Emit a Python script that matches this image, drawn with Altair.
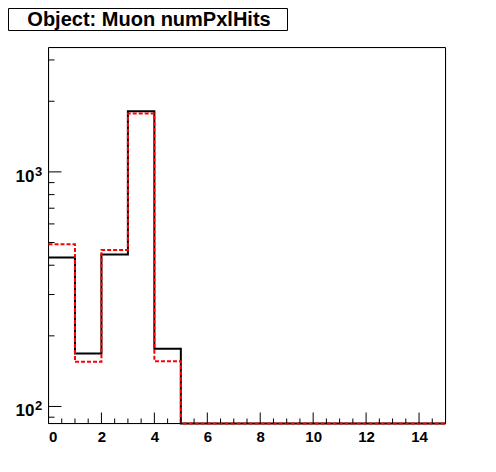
import altair as alt
import pandas as pd

# ---- data ----
bin_lows = list(range(15))                      # bins 0..14, width 1
black_counts = [432, 168, 444, 1814, 176, 0, 0, 0, 0, 0, 0, 0, 0, 0, 0]
red_counts = [491, 155, 465, 1774, 156, 0, 0, 0, 0, 0, 0, 0, 0, 0, 0]
x_labels = [0, 2, 4, 6, 8, 10, 12, 14]
x_minor = [0.5, 1, 1.5, 2.5, 3, 3.5, 4.5, 5, 5.5, 6.5, 7, 7.5, 8.5, 9, 9.5,
           10.5, 11, 11.5, 12.5, 13, 13.5, 14.5]
y_major = [100, 1000]
y_exponents = ["2", "3"]
y_minor = [90, 200, 300, 400, 500, 600, 700, 800, 900, 2000, 3000]
title_text = "Object: Muon numPxlHits"

X_MIN, X_MAX = 0, 15
Y_MIN, Y_MAX = 84.6, 3390

W, H = 397, 376
FONT = "Liberation Sans"


def step_frame(counts, name):
    edges = bin_lows + [bin_lows[-1] + 1]
    vals = counts + [counts[-1]]
    return pd.DataFrame({"edge": edges, "value": vals, "series": name})


df = pd.concat([step_frame(black_counts, "black"), step_frame(red_counts, "red")])

xs = alt.Scale(domain=[X_MIN, X_MAX], nice=False, zero=False)
ys = alt.Scale(type="log", domain=[Y_MIN, Y_MAX], nice=False, clamp=True)

base = alt.Chart(df).transform_calculate(yc=f"max(datum.value, {Y_MIN})")

black_line = base.transform_filter(alt.datum.series == "black").mark_line(
    interpolate="step-after", color="black", strokeWidth=2
).encode(
    x=alt.X("edge:Q", scale=xs,
            axis=alt.Axis(values=x_labels, title=None, tickSize=0, domain=False, grid=False,
                          labelFont=FONT, labelFontWeight="bold",
                          labelFontSize=15, labelColor="black", labelPadding=6)),
    y=alt.Y("yc:Q", scale=ys, axis=None),
)

red_line = base.transform_filter(alt.datum.series == "red").mark_line(
    interpolate="step-after", color="red", strokeWidth=2, strokeDash=[4, 2]
).encode(
    x=alt.X("edge:Q", scale=xs),
    y=alt.Y("yc:Q", scale=ys),
)

frame = alt.Chart(pd.DataFrame({"t": [0]})).mark_rect(
    fill=None, stroke="black", strokeWidth=1).encode(
    x=alt.value(0), x2=alt.value(W), y=alt.value(0), y2=alt.value(H))

xmaj = alt.Chart(pd.DataFrame({"v": x_labels})).mark_rule(color="black", strokeWidth=1).encode(
    x=alt.X("v:Q", scale=xs), y=alt.value(H), y2=alt.value(H - 11))
xmin = alt.Chart(pd.DataFrame({"v": x_minor})).mark_rule(color="black", strokeWidth=1).encode(
    x=alt.X("v:Q", scale=xs), y=alt.value(H), y2=alt.value(H - 5))
ymaj = alt.Chart(pd.DataFrame({"v": y_major})).mark_rule(color="black", strokeWidth=1).encode(
    y=alt.Y("v:Q", scale=ys), x=alt.value(0), x2=alt.value(13))
ymin = alt.Chart(pd.DataFrame({"v": y_minor})).mark_rule(color="black", strokeWidth=1).encode(
    y=alt.Y("v:Q", scale=ys), x=alt.value(0), x2=alt.value(6))

ylab_df = pd.DataFrame({"v": y_major, "e": y_exponents, "b": ["10"] * len(y_major)})
ylab_base = alt.Chart(ylab_df).mark_text(
    font=FONT, fontWeight="bold", fontSize=17, color="black",
    align="right", baseline="middle", dy=5).encode(
    y=alt.Y("v:Q", scale=ys), x=alt.value(-14), text="b:N")
ylab_exp = alt.Chart(ylab_df).mark_text(
    font=FONT, fontWeight="bold", fontSize=13, color="black",
    align="left", baseline="middle", dy=0).encode(
    y=alt.Y("v:Q", scale=ys), x=alt.value(-13.5), text="e:N")

tdf = pd.DataFrame({"t": [title_text]})
tbox = alt.Chart(tdf).mark_rect(fill="white", stroke="black", strokeWidth=1).encode(
    x=alt.value(-40), x2=alt.value(239), y=alt.value(-39), y2=alt.value(-17))
ttext = alt.Chart(tdf).mark_text(font=FONT, fontWeight="bold", fontSize=20,
                                 color="black", align="center", baseline="middle").encode(
    x=alt.value(100.5), y=alt.value(-27.5), text="t:N")

chart = alt.layer(frame, black_line, red_line, xmaj, xmin, ymaj, ymin,
                  ylab_base, ylab_exp, tbox, ttext).properties(
    width=W, height=H,
    autosize=alt.AutoSizeParams(type="none"),
    padding={"left": 40.5, "top": 39.5, "right": 40, "bottom": 40},
).configure_view(stroke=None).configure(background="white")

chart.save("out.html", embed_options={"renderer": "svg", "actions": False})
